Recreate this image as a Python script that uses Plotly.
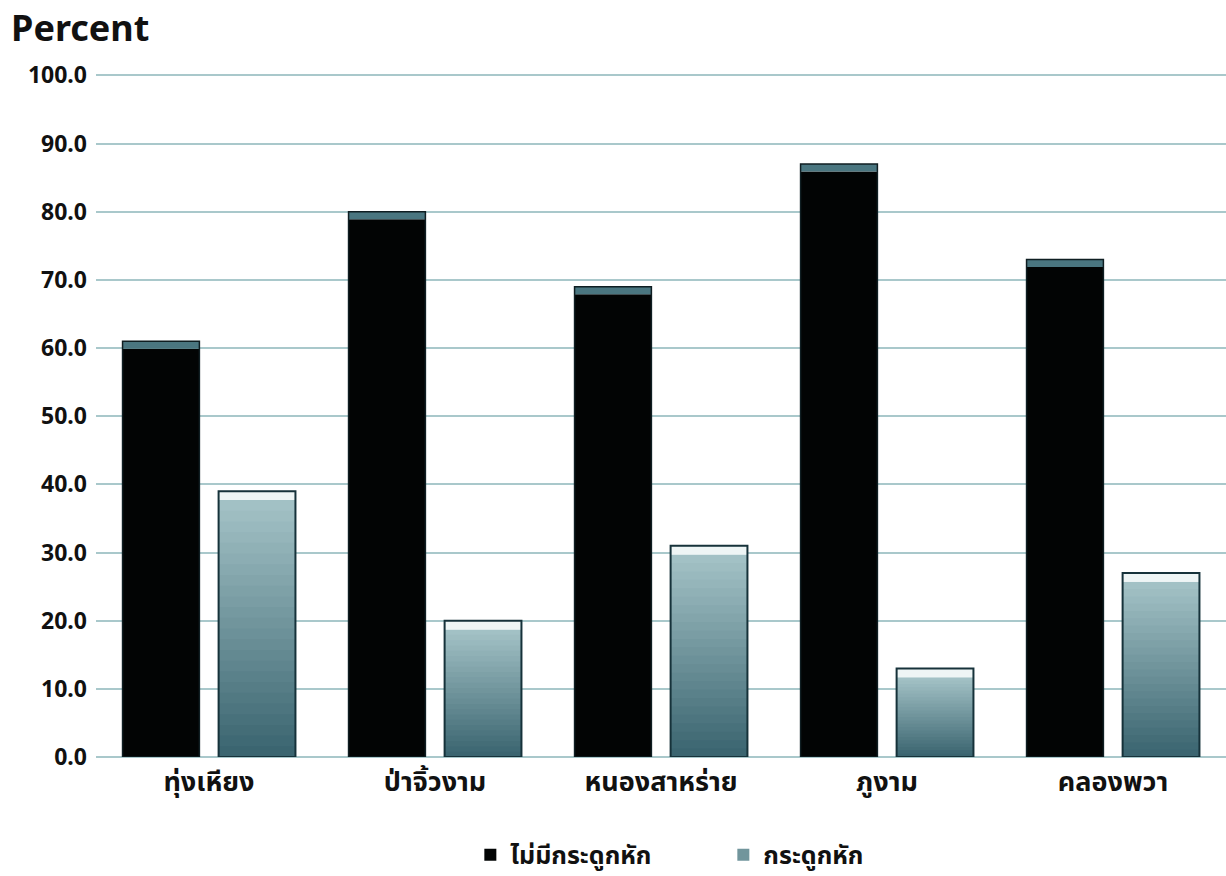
import plotly.graph_objects as go

# Data
districts = ["ทุ่งเหียง", "ป่าจิ้วงาม", "หนองสาหร่าย", "ภูงาม", "คลองพวา"]
no_fracture = [61.0, 80.0, 69.0, 87.0, 73.0]
fracture = [39.0, 20.0, 31.0, 13.0, 27.0]
y_ticks = [0, 10, 20, 30, 40, 50, 60, 70, 80, 90, 100]

name_no = "ไม่มีกระดูกหัก"
name_yes = "กระดูกหัก"

FONT = "Noto Sans, Noto Sans Thai, Loma, sans-serif"

def lerp_color(c1, c2, t):
    a = [int(c1[i:i + 2], 16) for i in (1, 3, 5)]
    b = [int(c2[i:i + 2], 16) for i in (1, 3, 5)]
    return "#" + "".join(f"{round(a[k] + (b[k] - a[k]) * t):02x}" for k in range(3))

fig = go.Figure()

# Dark series: solid body with a teal bevel cap on top
cap_dark = 1.1
fig.add_trace(go.Bar(
    x=districts, y=[v - cap_dark for v in no_fracture], base=0,
    offsetgroup="a", name=name_no, legendrank=1,
    marker=dict(color="#020404", line=dict(width=0)),
))
fig.add_trace(go.Bar(
    x=districts, y=[cap_dark] * len(no_fracture),
    base=[v - cap_dark for v in no_fracture],
    offsetgroup="a", showlegend=False, hoverinfo="skip",
    marker=dict(color="#4a7680", line=dict(width=0)),
))
fig.add_trace(go.Bar(
    x=districts, y=no_fracture, base=0,
    offsetgroup="a", showlegend=False, hoverinfo="skip",
    marker=dict(color="rgba(0,0,0,0)", line=dict(color="#0f1e22", width=1.5)),
))

# Light series: vertical gradient, drawn in overlapping slices of each bar's height
n_slices = 24
bottom_col, top_col = "#3b6570", "#a2c1c5"
cap_light = 1.3
for i in range(n_slices):
    t = i / (n_slices - 1)
    body = [v - cap_light for v in fracture]
    stretch = 1.0 if i == n_slices - 1 else 1.8
    fig.add_trace(go.Bar(
        x=districts,
        y=[b / n_slices * stretch for b in body],
        base=[b * i / n_slices for b in body],
        offsetgroup="b",
        name=name_yes,
        showlegend=(i == n_slices // 2),
        legendrank=2,
        hoverinfo="skip",
        marker=dict(color=lerp_color(bottom_col, top_col, t), line=dict(width=0)),
    ))
fig.add_trace(go.Bar(
    x=districts, y=[cap_light] * len(fracture),
    base=[v - cap_light for v in fracture],
    offsetgroup="b", showlegend=False, hoverinfo="skip",
    marker=dict(color="#eef5f5", line=dict(width=0)),
))
fig.add_trace(go.Bar(
    x=districts, y=fracture, base=0,
    offsetgroup="b", showlegend=False, hoverinfo="skip",
    marker=dict(color="rgba(0,0,0,0)", line=dict(color="#16323a", width=2)),
))

fig.update_layout(
    width=1226, height=876,
    margin=dict(l=96, r=0, t=74, b=119),
    paper_bgcolor="white", plot_bgcolor="white",
    barmode="group", bargap=0.15, bargroupgap=0.2,
    font=dict(family=FONT, color="#111111"),
    title=dict(
        text="<b>Percent</b>", xref="container", x=0.009, xanchor="left",
        yref="container", y=0.968, yanchor="middle",
        font=dict(size=36, family=FONT, color="#111111"),
    ),
    xaxis=dict(
        showgrid=False, showline=False, ticks="", ticklabelstandoff=6,
        tickfont=dict(size=27, family=FONT, color="#111111", weight="bold"),
    ),
    yaxis=dict(
        range=[0, 100.2], tickvals=y_ticks, tickformat=".1f",
        showgrid=True, gridcolor="#a9c8cb", gridwidth=2,
        zeroline=True, zerolinecolor="#a9c8cb", zerolinewidth=2,
        showline=False, ticks="", ticklabelstandoff=8,
        tickfont=dict(size=23, family=FONT, color="#111111", weight="bold"),
    ),
    legend=dict(
        orientation="h", x=0.59, xanchor="center", xref="container",
        y=0.024, yref="container", yanchor="middle",
        font=dict(size=25, family=FONT, color="#111111", weight="bold"),
        itemwidth=30, entrywidth=208,
    ),
)

fig.write_html("out.html")
